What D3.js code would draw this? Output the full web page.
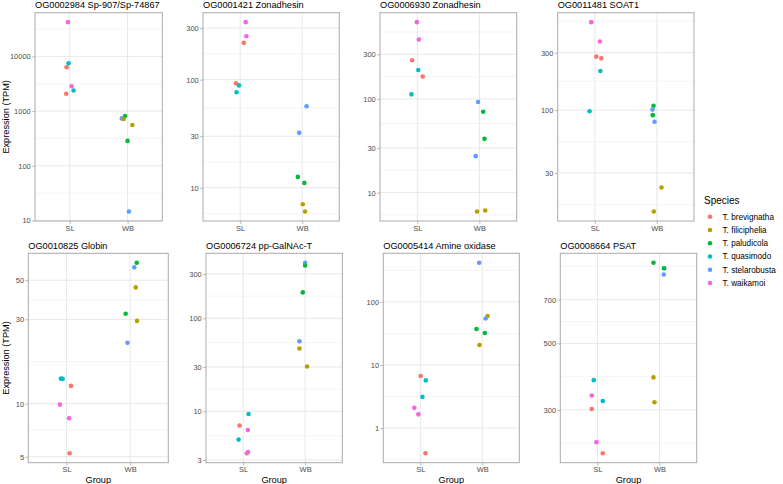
<!DOCTYPE html>
<html>
<head>
<meta charset="utf-8">
<script src="https://cdn.jsdelivr.net/npm/d3@7"></script>
<style>
  html, body { margin: 0; padding: 0; background: #fff; }
  svg { display: block; font-family: "Liberation Sans", Arial, Helvetica, sans-serif; }
</style>
</head>
<body>
<svg id="chart" width="783" height="484"></svg>
<script>
// ---------- DATA ----------
const species = ["T. brevignatha", "T. filiciphelia", "T. paludicola", "T. quasimodo", "T. stelarobusta", "T. waikamoi"];
const speciesColors = ["#F8766D", "#B79F00", "#00BA38", "#00BFC4", "#619CFF", "#F564E3"];
const speciesGroup = ["SL", "WB", "WB", "SL", "WB", "SL"];
const groups = ["SL", "WB"];
const titles = [
  "OG0002984 Sp-907/Sp-74867", "OG0001421 Zonadhesin", "OG0006930 Zonadhesin", "OG0011481 SOAT1",
  "OG0010825 Globin", "OG0006724 pp-GalNAc-T", "OG0005414 Amine oxidase", "OG0008664 PSAT"
];
const tickLabels = [
  [10, 100, 1000, 10000],
  [10, 30, 100, 300],
  [10, 30, 100, 300],
  [30, 100, 300],
  [5, 10, 30, 50],
  [3, 10, 30, 100, 300],
  [1, 10, 100],
  [300, 500, 700]
];
// rows: [species index, TPM, horizontal jitter (fraction of group spacing)]
const panel1 = [[5,42200,-0.03],[3,7460,-0.02],[0,6310,-0.055],[5,2850,0.033],[3,2380,0.067],[0,2070,-0.06],
                [4,736,-0.1],[2,811,-0.043],[1,716,-0.067],[1,556,0.083],[2,285,0],[4,14.6,0.023]];
const panel2 = [[5,340,0.09],[5,252,0.1],[0,219,0.058],[0,92.5,-0.068],[3,88.5,-0.02],[3,76.4,-0.058],
                [4,56.7,0.072],[4,32.2,-0.047],[2,12.6,-0.069],[2,11.1,0.036],[1,7.05,0.01],[1,6.03,0.047]];
const panel3 = [[5,661,-0.007],[5,432,0.026],[0,259,-0.082],[3,204,0.016],[0,174,0.087],[3,112,-0.093],
                [4,92.7,-0.021],[2,73,0.06],[2,37.5,0.082],[4,24.5,-0.06],[1,6.28,-0.038],[1,6.44,0.093]];
const panel4 = [[5,537,-0.058],[5,371,0.081],[0,278,0.023],[0,269,0.104],[3,211,0.088],[3,98,-0.086],
                [2,108.6,-0.053],[4,101,-0.07],[2,90.8,-0.065],[4,80,-0.037],[1,22.8,0.076],[1,14.4,-0.049]];
const panel5 = [[2,62.7,0.104],[4,59.1,0.065],[1,45.5,0.088],[2,32.3,-0.07],[1,29.4,0.109],[4,22.1,-0.042],
                [3,13.85,-0.088],[3,13.8,-0.06],[0,12.6,0.07],[5,9.87,-0.104],[5,8.27,0.042],[0,5.24,0.049]];
const panel6 = [[4,395,0],[2,370,0],[2,190,-0.038],[4,56.7,-0.091],[1,47.3,-0.091],[1,30.3,0.032],
                [3,9.36,0.087],[0,7.03,-0.058],[5,6.3,0.075],[3,4.97,-0.074],[0,3.55,0.059],[5,3.66,0.08]];
const panel7 = [[4,416,-0.049],[1,59.6,0.087],[4,54.6,0.054],[2,37.2,-0.093],[2,32.1,0.043],[1,20.7,-0.044],
                [0,6.7,0.005],[3,5.7,0.087],[3,3.12,0.033],[5,2.09,-0.098],[5,1.65,-0.033],[0,0.40,0.082]];
const panel8 = [[4,891,0.074],[2,929,-0.097],[2,891,0.074],[4,849,0.069],[1,385,-0.097],[1,318,-0.081],
                [3,377,-0.06],[5,335,-0.092],[3,321,0.085],[0,302,-0.092],[5,234,-0.016],[0,215,0.085]];
const panelData = [panel1, panel2, panel3, panel4, panel5, panel6, panel7, panel8];

// ---------- LAYOUT ----------
const rows = [{top: 12.7, bottom: 221}, {top: 253.3, bottom: 462.7}];
const panelX = [[35, 162.3], [203, 339.3], [380, 516.7], [557.7, 694],
                [28.3, 168.3], [206, 342.3], [383.3, 519.3], [560.3, 696.7]];
const FONT_TICK = 7.5, FONT_TITLE = 9.2, FONT_AXIS = 9.2;

const svg = d3.select("#chart");

function minorBreaks(majors, lo, hi) {
  // ggplot-style minor breaks in log10 space
  let b = majors.map(Math.log10);
  const bd = b[1] - b[0];
  if (lo < b[0]) b = [b[0] - bd, ...b];
  if (hi > b[b.length - 1]) b = [...b, b[b.length - 1] + bd];
  const out = [];
  for (let i = 0; i < b.length - 1; i++) out.push((b[i] + b[i + 1]) / 2);
  return out.filter(v => v > lo && v < hi).map(v => Math.pow(10, v));
}

panelData.forEach((data, i) => {
  const row = rows[Math.floor(i / 4)];
  const [x0, x1] = panelX[i];
  const g = svg.append("g");

  const logs = data.map(d => Math.log10(d[1]));
  const lmin = d3.min(logs), lmax = d3.max(logs);
  const pad = (lmax - lmin) * 0.05;
  const lo = lmin - pad, hi = lmax + pad;

  const y = d3.scaleLog().domain([Math.pow(10, lo), Math.pow(10, hi)]).range([row.bottom, row.top]);
  const x = d3.scalePoint().domain(groups).range([x0, x1]).padding(0.6);
  const step = x.step();

  // grid
  const minors = minorBreaks(tickLabels[i], lo, hi);
  g.selectAll(".minor").data(minors).enter().append("line")
    .attr("x1", x0).attr("x2", x1).attr("y1", d => y(d)).attr("y2", d => y(d))
    .attr("stroke", "#EEEEEE").attr("stroke-width", 0.6);
  g.selectAll(".major").data(tickLabels[i]).enter().append("line")
    .attr("x1", x0).attr("x2", x1).attr("y1", d => y(d)).attr("y2", d => y(d))
    .attr("stroke", "#E2E2E2").attr("stroke-width", 0.8);
  g.selectAll(".vmajor").data(groups).enter().append("line")
    .attr("x1", d => x(d)).attr("x2", d => x(d)).attr("y1", row.top).attr("y2", row.bottom)
    .attr("stroke", "#E2E2E2").attr("stroke-width", 0.8);

  // points
  g.selectAll("circle").data(data).enter().append("circle")
    .attr("cx", d => x(speciesGroup[d[0]]) + d[2] * step)
    .attr("cy", d => y(d[1]))
    .attr("r", 2.3)
    .attr("fill", d => speciesColors[d[0]]);

  // border
  g.append("rect").attr("x", x0).attr("y", row.top).attr("width", x1 - x0).attr("height", row.bottom - row.top)
    .attr("fill", "none").attr("stroke", "#ABABAB").attr("stroke-width", 1);

  // y axis
  const ya = g.append("g").attr("transform", `translate(${x0},0)`)
    .call(d3.axisLeft(y).tickValues(tickLabels[i]).tickFormat(d3.format("d")).tickSize(2.75).tickPadding(1.5));
  ya.select(".domain").remove();
  ya.selectAll("line").attr("stroke", "#B3B3B3");
  ya.selectAll("text").attr("fill", "#4D4D4D").style("font-size", FONT_TICK + "px").style("font-family", "inherit");

  // x axis
  const xa = g.append("g").attr("transform", `translate(0,${row.bottom})`)
    .call(d3.axisBottom(x).tickSize(2.75).tickPadding(1.5));
  xa.select(".domain").remove();
  xa.selectAll("line").attr("stroke", "#B3B3B3");
  xa.selectAll("text").attr("fill", "#4D4D4D").style("font-size", FONT_TICK + "px").style("font-family", "inherit");

  // title
  g.append("text").attr("x", x0).attr("y", i < 4 ? 8.4 : 249)
    .style("font-size", FONT_TITLE + "px").attr("fill", "#000").text(titles[i]);

  // axis titles
  if (i % 4 === 0) {
    g.append("text").attr("transform", `translate(8.5,${(row.top + row.bottom) / 2}) rotate(-90)`)
      .attr("text-anchor", "middle").style("font-size", FONT_AXIS + "px").attr("fill", "#000")
      .text("Expression (TPM)");
  }
  if (i >= 4) {
    g.append("text").attr("x", (x0 + x1) / 2).attr("y", 482.5).attr("text-anchor", "middle")
      .style("font-size", FONT_AXIS + "px").attr("fill", "#000").text("Group");
  }
});

// legend
const lg = svg.append("g");
lg.append("text").attr("x", 704).attr("y", 204.2).style("font-size", "10px").attr("fill", "#000").text("Species");
lg.selectAll(".item").data(species).enter().append("g")
  .attr("transform", (d, k) => `translate(0,${216.7 + k * 13.25})`)
  .each(function(d, k) {
    const it = d3.select(this);
    it.append("circle").attr("cx", 710).attr("cy", 0).attr("r", 2.3).attr("fill", speciesColors[k]);
    it.append("text").attr("x", 722.5).attr("y", 2.9).style("font-size", "8.2px").attr("fill", "#000").text(d);
  });
</script>
</body>
</html>
